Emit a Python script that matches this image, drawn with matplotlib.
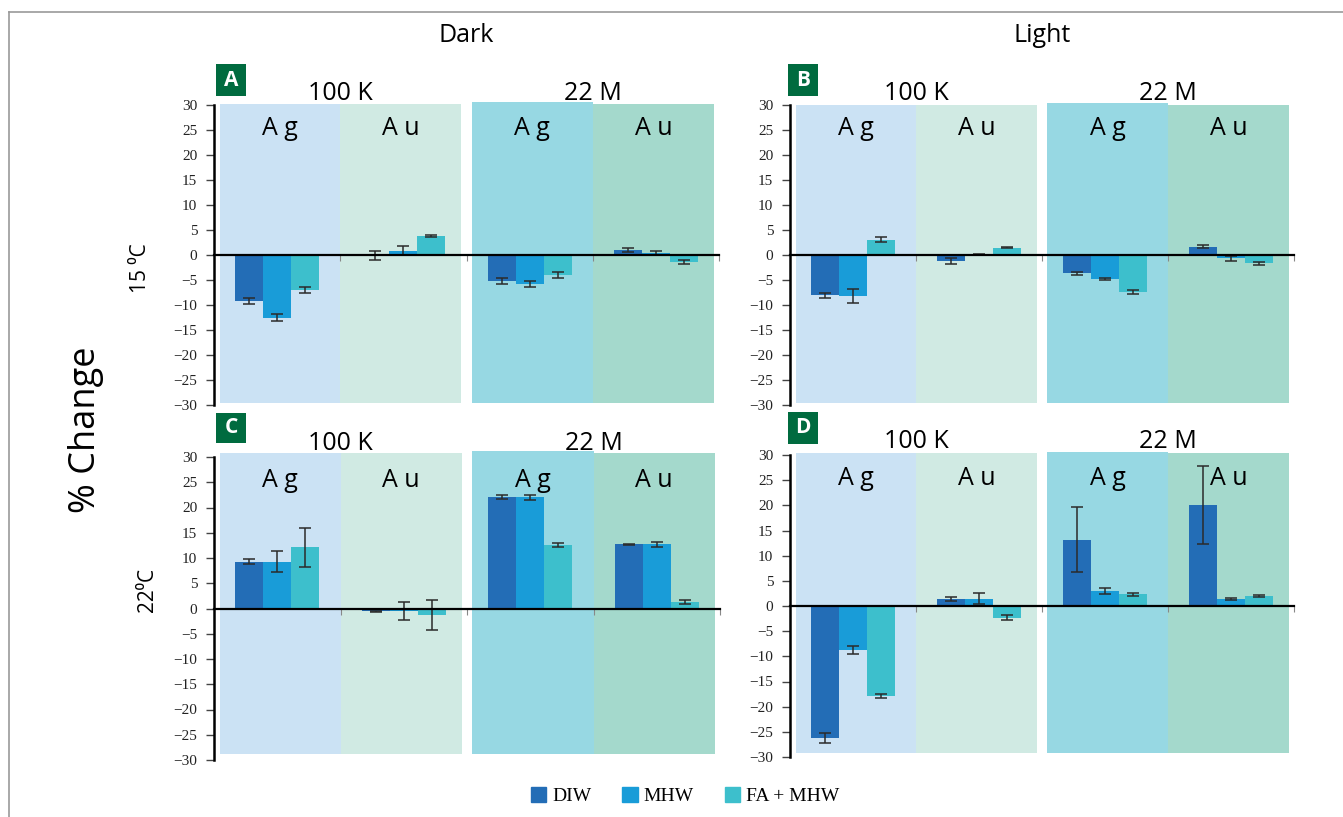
import numpy as np
import matplotlib.pyplot as plt
from matplotlib.patches import Rectangle, Patch
from matplotlib.lines import Line2D

plt.rcParams['font.family'] = ['Open Sans', 'DejaVu Sans']

# groups along each x axis
groups = ["Ag 100 K", "Au 100 K", "Ag 22 M", "Au 22 M"]
series = ["DIW", "MHW", "FA + MHW"]

# A: 15 C, dark
a_diw = [-9.2, -0.1, -5.1, 1.1]
a_mhw = [-12.5, 0.9, -5.7, 0.5]
a_fa = [-6.9, 3.8, -4.0, -1.3]
a_diw_err = [0.6, 0.9, 0.6, 0.4]
a_mhw_err = [0.7, 0.9, 0.6, 0.4]
a_fa_err = [0.6, 0.25, 0.6, 0.4]

# B: 15 C, light
b_diw = [-8.0, -1.2, -3.6, 1.7]
b_mhw = [-8.2, 0.2, -4.7, -0.6]
b_fa = [3.1, 1.5, -7.4, -1.6]
b_diw_err = [0.5, 0.6, 0.3, 0.3]
b_mhw_err = [1.4, 0.1, 0.2, 0.5]
b_fa_err = [0.5, 0.15, 0.4, 0.3]

# C: 22 C, dark
c_diw = [9.3, -0.5, 22.0, 12.7]
c_mhw = [9.3, -0.5, 22.0, 12.7]
c_fa = [12.1, -1.3, 12.5, 1.2]
c_diw_err = [0.5, 0.1, 0.4, 0.1]
c_mhw_err = [2.0, 1.7, 0.5, 0.45]
c_fa_err = [3.9, 2.9, 0.4, 0.4]

# D: 22 C, light
d_diw = [-26.2, 1.3, 13.2, 20.1]
d_mhw = [-8.8, 1.4, 3.0, 1.4]
d_fa = [-17.9, -2.3, 2.3, 2.0]
d_diw_err = [1.0, 0.4, 6.4, 7.8]
d_mhw_err = [0.8, 1.1, 0.6, 0.15]
d_fa_err = [0.45, 0.5, 0.27, 0.2]

bar_colors = ["#236DB6", "#199CD8", "#3DBFCC"]
bg_colors = ["#CBE2F4", "#D0EAE3", "#97D8E3", "#A4D9CC"]
green = "#006B3F"

W, H = 1343, 817
fig = plt.figure(figsize=(W / 100, H / 100), dpi=100)


def fx(x):
    return x / W


def fy(y):
    return 1 - y / H


def panel(box, vals, errs, bg_lo, bg_hi, title_y, letter, lbox):
    left, top, right, bottom = box
    ax = fig.add_axes([fx(left), fy(bottom), (right - left) / W, (bottom - top) / H])
    ax.set_facecolor("none")

    spans = [(0.05, 1.0), (1.0, 1.96), (2.04, 3.0), (3.0, 3.96)]
    for i, (x0, x1) in enumerate(spans):
        hi = bg_hi + (0.3 if i == 2 else 0)
        ax.add_patch(Rectangle((x0, bg_lo), x1 - x0, hi - bg_lo, color=bg_colors[i],
                               lw=0, zorder=0, clip_on=False))

    x = np.arange(len(groups)) + 0.5
    w = 0.222
    for k in range(3):
        ax.bar(x + (k - 1) * w, vals[k], w, color=bar_colors[k], zorder=1,
               yerr=errs[k], error_kw=dict(ecolor="#2b2b2b", elinewidth=1.1,
                                          capsize=4, capthick=1.1, zorder=2))

    ax.set_xlim(0, 4)
    ax.set_ylim(-30, 30)
    ax.set_yticks(np.arange(-30, 31, 5))
    ax.set_xticks([1, 2, 3, 4])
    ax.tick_params(axis="x", direction="out", length=4, color="#888888", labelbottom=False)
    ax.tick_params(axis="y", direction="out", length=6, width=1, color="#444444", pad=6,
                   labelsize=11, labelcolor="#222222")
    for t in ax.get_yticklabels():
        t.set_family("Liberation Serif")
    for s in ["top", "right"]:
        ax.spines[s].set_visible(False)
    ax.spines["bottom"].set_position(("data", 0))
    ax.spines["bottom"].set_linewidth(1.6)
    ax.spines["bottom"].set_zorder(3)
    ax.spines["left"].set_linewidth(1.8)

    ax.text(1, title_y, "100 K", ha="center", va="baseline", fontsize=18)
    ax.text(3, title_y, "22 M", ha="center", va="baseline", fontsize=18)
    for i, (x0, x1) in enumerate(spans):
        ax.text((x0 + x1) / 2, 24, groups[i][:2].replace("", " ").strip(),
                ha="center", va="baseline", fontsize=18)

    # green letter box
    x0, y0, x1, y1 = lbox
    fig.add_artist(Rectangle((fx(x0), fy(y1)), (x1 - x0) / W, (y1 - y0) / H,
                             transform=fig.transFigure, color=green, lw=0))
    fig.text(fx((x0 + x1) / 2), fy((y0 + y1) / 2), letter, color="white", weight="bold",
             ha="center", va="center", fontsize=15)
    return ax


panel((214, 105, 719, 405), [a_diw, a_mhw, a_fa], [a_diw_err, a_mhw_err, a_fa_err],
      -29.5, 30.3, 31, "A", (216, 64, 246, 96))
panel((790, 105, 1294, 405), [b_diw, b_mhw, b_fa], [b_diw_err, b_mhw_err, b_fa_err],
      -29.5, 30.1, 31, "B", (788, 64, 818, 96))
panel((214, 457, 720, 760), [c_diw, c_mhw, c_fa], [c_diw_err, c_mhw_err, c_fa_err],
      -28.8, 30.8, 31.3, "C", (216, 413, 246, 443))
panel((790, 455, 1294, 757), [d_diw, d_mhw, d_fa], [d_diw_err, d_mhw_err, d_fa_err],
      -29.3, 30.3, 31.3, "D", (788, 412, 818, 444))

fig.text(fx(466), fy(35), "Dark", ha="center", va="center", fontsize=18)
fig.text(fx(1042), fy(35), "Light", ha="center", va="center", fontsize=18)
fig.text(fx(86), fy(430), "% Change", ha="center", va="center", rotation=90, fontsize=26)
fig.text(fx(140), fy(268), "15 \u2070C", ha="center", va="center", rotation=90, fontsize=15)
fig.text(fx(147), fy(590), "22\u2070C", ha="center", va="center", rotation=90, fontsize=15)

handles = [Patch(color=c, label=l) for c, l in zip(bar_colors, series)]
fig.legend(handles=handles, loc="center", bbox_to_anchor=(fx(685), fy(796)), ncol=3,
           frameon=False, prop={"family": "Liberation Serif", "size": 14},
           handlelength=0.8, handleheight=0.8, handletextpad=0.3, columnspacing=1.6)

# thin frame lines at top and left
fig.add_artist(Line2D([fx(9), 1], [fy(11.5), fy(11.5)], transform=fig.transFigure,
                      color="#999999", lw=1.2))
fig.add_artist(Line2D([fx(9), fx(9)], [fy(11.5), 0], transform=fig.transFigure,
                      color="#999999", lw=1.2))

fig.savefig("out.png", dpi=100)
